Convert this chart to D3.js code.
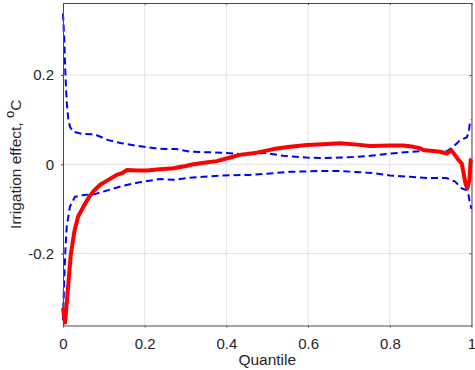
<!DOCTYPE html>
<html>
<head>
<meta charset="utf-8">
<script src="https://cdn.jsdelivr.net/npm/d3@7"></script>
<style>
  body { margin: 0; background: #fff; }
  text { font-family: "Liberation Sans", Arial, Helvetica, sans-serif; fill: #262626; }
</style>
</head>
<body>
<script>
// irrigation effect (red) sampled along quantile
const effectQ = [0, 0.005, 0.012, 0.019, 0.028, 0.037, 0.05, 0.062, 0.075, 0.091, 0.111, 0.131, 0.145, 0.156,
  0.184, 0.205, 0.23, 0.27, 0.3, 0.319, 0.35, 0.376, 0.4, 0.433, 0.474, 0.515, 0.556, 0.597, 0.637, 0.678,
  0.72, 0.752, 0.8, 0.833, 0.858, 0.874, 0.882, 0.923, 0.939, 0.951, 0.968, 0.976, 0.986, 0.99, 0.995, 0.998, 1]
const effectV = [-0.322, -0.355, -0.28, -0.203, -0.15, -0.117, -0.095, -0.076, -0.06, -0.046, -0.035, -0.024, -0.02, -0.013,
  -0.014, -0.014, -0.012, -0.009, -0.004, 0, 0.004, 0.007, 0.013, 0.021, 0.026, 0.034, 0.039, 0.043, 0.045, 0.047,
  0.044, 0.041, 0.042, 0.042, 0.039, 0.036, 0.032, 0.028, 0.024, 0.031, 0.01, 0.002, -0.046, -0.054, -0.035, 0.01, 0.012]

// upper confidence bound (blue dashed)
const upperQ = [0, 0.003, 0.006, 0.009, 0.013, 0.017, 0.025, 0.046, 0.078, 0.111, 0.144, 0.184, 0.225, 0.25, 0.278,
  0.311, 0.392, 0.433, 0.498, 0.539, 0.597, 0.629, 0.678, 0.711, 0.752, 0.792, 0.849, 0.898, 0.939, 0.955,
  0.972, 0.988, 0.993, 0.996, 1]
const upperV = [0.338, 0.28, 0.2, 0.14, 0.1, 0.084, 0.073, 0.068, 0.067, 0.054, 0.047, 0.041, 0.036, 0.034, 0.034,
  0.028, 0.026, 0.023, 0.025, 0.019, 0.015, 0.014, 0.015, 0.016, 0.019, 0.023, 0.028, 0.03, 0.029, 0.039,
  0.054, 0.06, 0.07, 0.092, 0.1]

// lower confidence bound (blue dashed)
const lowerQ = [0, 0.003, 0.006, 0.009, 0.017, 0.029, 0.05, 0.078, 0.111, 0.144, 0.184, 0.225, 0.237, 0.27, 0.311,
  0.392, 0.457, 0.515, 0.556, 0.637, 0.678, 0.711, 0.76, 0.8, 0.849, 0.898, 0.939, 0.96, 0.976, 0.988,
  0.993, 0.996, 1]
const lowerV = [-0.35, -0.26, -0.19, -0.14, -0.095, -0.073, -0.069, -0.067, -0.058, -0.049, -0.041, -0.035, -0.033, -0.035, -0.03,
  -0.025, -0.024, -0.02, -0.017, -0.015, -0.015, -0.017, -0.02, -0.025, -0.028, -0.031, -0.031, -0.039, -0.054, -0.058,
  -0.07, -0.087, -0.1]

const xTicks = [0, 0.2, 0.4, 0.6, 0.8, 1]
const yTicks = [-0.2, 0, 0.2]

const dims = { w: 475, h: 370, pl: 63, pr: 3.5, pt: 3, pb: 44.5 }

const svg = d3.select("body").append("svg")
  .attr("width", dims.w)
  .attr("height", dims.h)

const xScale = d3.scaleLinear().domain([0, 1]).range([dims.pl, dims.w - dims.pr])
const yScale = d3.scaleLinear().domain([-0.3615, 0.3615]).range([dims.h - dims.pb, dims.pt])

const fmt = d => String(d)

// grid
svg.append("g").selectAll("line").data(xTicks).enter().append("line")
  .attr("x1", d => xScale(d)).attr("x2", d => xScale(d))
  .attr("y1", dims.pt).attr("y2", dims.h - dims.pb)
  .attr("stroke", "#e3e3e3").attr("stroke-width", 1)
svg.append("g").selectAll("line").data(yTicks).enter().append("line")
  .attr("x1", dims.pl).attr("x2", dims.w - dims.pr)
  .attr("y1", d => yScale(d)).attr("y2", d => yScale(d))
  .attr("stroke", "#e3e3e3").attr("stroke-width", 1)

const line = (qs, vs) => d3.line()
  .x((d, i) => xScale(qs[i]))
  .y(d => yScale(d))(vs)

svg.append("path").attr("d", line(upperQ, upperV))
  .attr("fill", "none").attr("stroke", "#0000ff").attr("stroke-width", 2)
  .attr("stroke-dasharray", "7,4")
svg.append("path").attr("d", line(lowerQ, lowerV))
  .attr("fill", "none").attr("stroke", "#0000ff").attr("stroke-width", 2)
  .attr("stroke-dasharray", "7,4")
svg.append("path").attr("d", line(effectQ, effectV))
  .attr("fill", "none").attr("stroke", "#ff0000").attr("stroke-width", 4)
  .attr("stroke-linejoin", "round")

// axes
const xAxis = d3.axisBottom(xScale).tickValues(xTicks).tickFormat(fmt).tickSizeInner(2).tickSizeOuter(0).tickPadding(11)
const yAxis = d3.axisLeft(yScale).tickValues(yTicks).tickFormat(fmt).tickSizeInner(2).tickSizeOuter(0).tickPadding(7)
const xTop = d3.axisTop(xScale).tickValues(xTicks).tickFormat("").tickSizeInner(-2).tickSizeOuter(0)
const yRight = d3.axisRight(yScale).tickValues(yTicks).tickFormat("").tickSizeInner(-2).tickSizeOuter(0)

const styleAxis = g => {
  g.select(".domain").attr("stroke", "#4d4d4d")
  g.selectAll(".tick line").attr("stroke", "#4d4d4d")
  g.selectAll(".tick text").attr("font-size", 15).attr("fill", "#262626")
    .style("font-family", '"Liberation Sans", Arial, sans-serif')
}

svg.append("g").attr("transform", `translate(0,${dims.h - dims.pb})`).call(xAxis).call(styleAxis)
svg.append("g").attr("transform", `translate(${dims.pl},0)`).call(yAxis).call(styleAxis)
svg.append("g").attr("transform", `translate(0,${dims.pt})`).call(xTop).call(styleAxis)
svg.append("g").attr("transform", `translate(${dims.w - dims.pr},0)`).call(yRight).call(styleAxis)

// labels
svg.append("text")
  .attr("x", xScale(0.5)).attr("y", 365)
  .attr("text-anchor", "middle").attr("font-size", 15.5)
  .text("Quantile")

const yl = svg.append("text")
  .attr("transform", `translate(21,${yScale(0)}) rotate(-90)`)
  .attr("text-anchor", "middle").attr("font-size", 15.5)
yl.append("tspan").text("Irrigation effect, ")
yl.append("tspan").attr("dy", -7).attr("font-size", 13).text("o")
yl.append("tspan").attr("dy", 7).text("C")
</script>
</body>
</html>
